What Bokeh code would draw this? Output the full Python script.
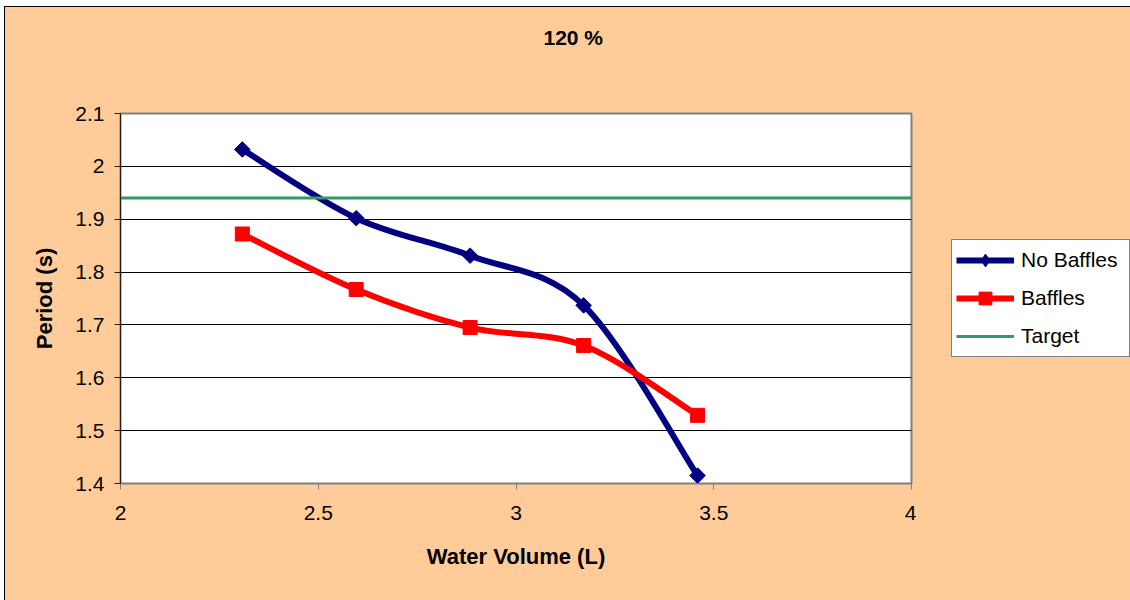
import numpy as np
from bokeh.plotting import figure
from bokeh.layouts import row
from bokeh.models import (Range1d, FixedTicker, NumeralTickFormatter, Legend,
                          LegendItem, Title)
from bokeh.embed import file_html
from bokeh.resources import INLINE

# ---------------- data ----------------
volume = [2.308, 2.596, 2.884, 3.171, 3.459]
no_baffles = [2.032, 1.902, 1.831, 1.737, 1.415]
baffles = [1.872, 1.767, 1.695, 1.661, 1.529]
target_volume = [2.0, 4.0]
target_period = [1.94, 1.94]

x_ticks = [2, 2.5, 3, 3.5, 4]
y_ticks = [1.4, 1.5, 1.6, 1.7, 1.8, 1.9, 2.0, 2.1]

title_text = "120 %"
x_label = "Water Volume (L)"
y_label = "Period (s)"
series_names = ["No Baffles", "Baffles", "Target"]

FONT = "Liberation Sans"
NAVY = "#000080"
RED = "#FF0000"
GREEN = "#339966"
BG = "#FFCC99"


def smooth_segments(xs, ys):
    """Cubic Bezier segments (Excel-like smoothing, Catmull-Rom control points)."""
    x = np.asarray(xs, float)
    y = np.asarray(ys, float)
    xp = np.concatenate([[x[0]], x, [x[-1]]])
    yp = np.concatenate([[y[0]], y, [y[-1]]])
    n = len(x)
    i = np.arange(n - 1)
    return dict(
        x0=x[:-1], y0=y[:-1], x1=x[1:], y1=y[1:],
        cx0=x[i] + (xp[i + 2] - xp[i]) / 6.0,
        cy0=y[i] + (yp[i + 2] - yp[i]) / 6.0,
        cx1=x[i + 1] - (xp[i + 3] - xp[i + 1]) / 6.0,
        cy1=y[i + 1] - (yp[i + 3] - yp[i + 1]) / 6.0,
    )


# ---------------- main chart ----------------
p = figure(width=911, height=593,
           x_range=Range1d(2, 4), y_range=Range1d(1.4, 2.1),
           output_backend="svg", toolbar_location=None,
           min_border_left=115, min_border_right=5,
           min_border_top=106, min_border_bottom=117,
           background_fill_color="white", border_fill_color=BG)

p.outline_line_color = "#808080"
p.outline_line_width = 2

# title (outermost) + an empty spacer title between it and the plot area
p.title = Title(text=title_text, align="left", offset=423, standoff=0,
                text_font=FONT, text_font_style="bold", text_font_size="21px",
                text_color="black")
p.add_layout(Title(text=" ", standoff=40, text_font=FONT,
                   text_font_size="21px"), "above")

p.xaxis.ticker = FixedTicker(ticks=x_ticks)
p.yaxis.ticker = FixedTicker(ticks=y_ticks)
p.xaxis.formatter = NumeralTickFormatter(format="0.[0]")
p.yaxis.formatter = NumeralTickFormatter(format="0.[0]")
p.xaxis.axis_label = x_label
p.yaxis.axis_label = y_label
for ax in (p.xaxis[0], p.yaxis[0]):
    ax.major_label_text_font = FONT
    ax.major_label_text_font_size = "21px"
    ax.major_label_text_color = "black"
    ax.axis_label_text_font = FONT
    ax.axis_label_text_font_size = "22px"
    ax.axis_label_text_font_style = "bold"
    ax.axis_label_text_color = "black"
    ax.major_tick_in = 0
    ax.major_tick_out = 6
    ax.minor_tick_in = 0
    ax.minor_tick_out = 0
p.xaxis.axis_line_color = "#808080"
p.xaxis.major_tick_line_color = "#808080"
p.yaxis.axis_line_color = "#202020"
p.yaxis.major_tick_line_color = "#202020"
p.xaxis.major_label_standoff = 16
p.yaxis.major_label_standoff = 10
p.xaxis.axis_label_standoff = 21
p.yaxis.axis_label_standoff = 15

p.xgrid.visible = False
p.ygrid.ticker = FixedTicker(ticks=y_ticks)
p.ygrid.grid_line_color = "black"
p.ygrid.grid_line_width = 1

nb_seg = smooth_segments(volume, no_baffles)
b_seg = smooth_segments(volume, baffles)

p.bezier(**nb_seg, line_color=NAVY, line_width=6, line_cap="round")
p.scatter(volume, no_baffles, marker="square", angle=np.pi / 4,
          size=11, fill_color=NAVY, line_color=NAVY)
p.bezier(**b_seg, line_color=RED, line_width=6, line_cap="round")
p.scatter(volume, baffles, marker="square", size=14,
          fill_color=RED, line_color=RED)
p.line(target_volume, target_period, line_color=GREEN, line_width=3)

# ---------------- legend area (right of the chart) ----------------
# the series are re-drawn here outside the visible window, only to feed the legend
q = figure(width=214, height=593, x_range=Range1d(0, 1), y_range=Range1d(0, 1),
           output_backend="svg", toolbar_location=None,
           x_axis_type=None, y_axis_type=None,
           min_border=0, min_border_left=0, min_border_right=0,
           min_border_top=0, min_border_bottom=0,
           background_fill_color=BG, border_fill_color=BG)
q.outline_line_color = None
q.grid.visible = False

k_nb_line = q.line(volume, no_baffles, line_color=NAVY, line_width=6)
k_nb_pt = q.scatter(volume, no_baffles, marker="diamond", size=16,
                    fill_color=NAVY, line_color=NAVY)
k_b_line = q.line(volume, baffles, line_color=RED, line_width=6)
k_b_pt = q.scatter(volume, baffles, marker="square", size=13,
                   fill_color=RED, line_color=RED)
k_t_line = q.line(target_volume, target_period, line_color=GREEN, line_width=3)

legend = Legend(items=[
    LegendItem(label=series_names[0], renderers=[k_nb_line, k_nb_pt]),
    LegendItem(label=series_names[1], renderers=[k_b_line, k_b_pt]),
    LegendItem(label=series_names[2], renderers=[k_t_line]),
], location=(35, 126))
legend.padding = 4
legend.margin = 0
legend.spacing = 6
legend.glyph_width = 58
legend.glyph_height = 32
legend.label_height = 32
legend.label_width = 104
legend.label_standoff = 7
legend.label_text_font = FONT
legend.label_text_font_size = "21px"
legend.label_text_color = "black"
legend.border_line_color = "black"
legend.border_line_width = 1
legend.background_fill_color = "white"
legend.background_fill_alpha = 1.0
q.add_layout(legend)

layout = row(p, q, spacing=0)
layout.margin = (6, 0, 0, 4)
layout.styles = {"border-left": "1px solid #000000",
                 "border-top": "1px solid #000000",
                 "background-color": BG}

open("out.html", "w").write(file_html(layout, INLINE))
